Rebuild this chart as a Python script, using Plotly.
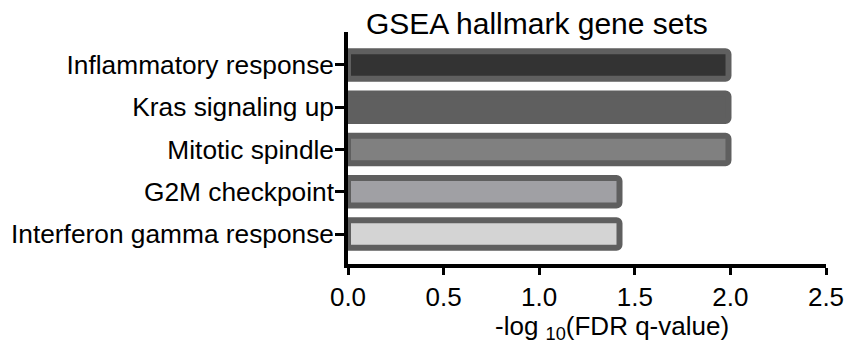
import plotly.graph_objects as go

categories = ["Inflammatory response", "Kras signaling up", "Mitotic spindle",
              "G2M checkpoint", "Interferon gamma response"]
values = [1.99, 1.99, 1.99, 1.42, 1.42]
fill_colors = ["#333333", "#5f5f5f", "#808080", "#a0a0a4", "#d4d4d4"]
x_ticks = [0.0, 0.5, 1.0, 1.5, 2.0, 2.5]
x_tick_labels = ["0.0", "0.5", "1.0", "1.5", "2.0", "2.5"]
title_text = "GSEA hallmark gene sets"
x_title = "-log <sub>10</sub>(FDR q-value)"

FONT = "Liberation Sans, Arial, sans-serif"

fig = go.Figure(go.Bar(
    x=values, y=categories, orientation="h",
    marker=dict(color=fill_colors, line=dict(color="#5f5f5f", width=6), cornerradius=3),
    width=0.65,
))

# page body has an 8px margin, so the figure is sized/offset to compensate
fig.update_layout(
    width=837, height=342,
    margin=dict(l=340, r=19, t=24, b=86),
    plot_bgcolor="white", paper_bgcolor="white",
    showlegend=False,
    font=dict(family=FONT, size=26, color="black"),
)
fig.update_xaxes(
    range=[0, 2.5], tickvals=x_ticks, ticktext=x_tick_labels,
    showline=True, linecolor="black", linewidth=3.5,
    ticks="outside", ticklen=7, tickwidth=3, tickcolor="black",
    showgrid=False, zeroline=False, automargin=False,
    tickfont=dict(family=FONT, size=26),
)
fig.update_yaxes(
    categoryorder="array", categoryarray=categories,
    range=[4.71, -0.78],
    showline=True, linecolor="black", linewidth=3.5,
    ticks="outside", ticklen=9, tickwidth=3, tickcolor="black",
    showgrid=False, zeroline=False, automargin=False,
    tickfont=dict(family=FONT, size=26.3),
    ticklabelstandoff=-4,
)
fig.add_annotation(text=title_text, xref="paper", yref="paper",
                   x=0.396, y=1.0, yshift=9, xanchor="center", yanchor="middle",
                   showarrow=False, font=dict(family=FONT, size=30))
fig.add_annotation(text=x_title, xref="paper", yref="paper",
                   x=0.552, y=0, yshift=-63, xanchor="center", yanchor="middle",
                   showarrow=False, font=dict(family=FONT, size=26))

fig.write_html("out.html")
